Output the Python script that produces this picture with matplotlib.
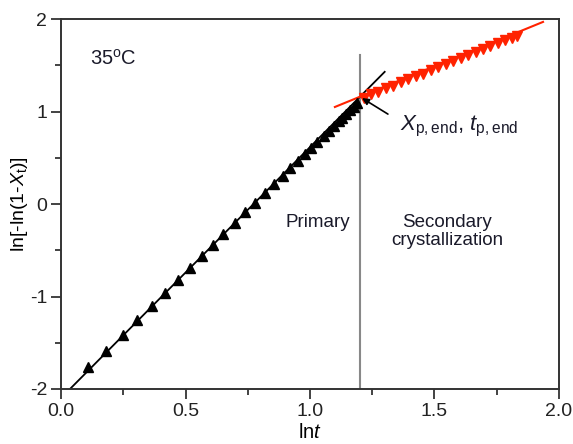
import matplotlib
matplotlib.use("Agg")
import matplotlib.pyplot as plt
from matplotlib.ticker import MultipleLocator

plt.rcParams["font.family"] = ["Liberation Sans", "DejaVu Sans"]
plt.rcParams["mathtext.fontset"] = "custom"
plt.rcParams["mathtext.rm"] = "Liberation Sans"
plt.rcParams["mathtext.it"] = "Liberation Sans:italic"
plt.rcParams["axes.unicode_minus"] = False

# primary crystallization data (ln t, ln[-ln(1-X)])
prim_x = [0.108, 0.181, 0.249, 0.305, 0.365, 0.418, 0.470, 0.518, 0.566, 0.610,
          0.651, 0.699, 0.740, 0.780, 0.820, 0.855, 0.890, 0.920, 0.950, 0.980,
          1.005, 1.030, 1.055, 1.075, 1.095, 1.115, 1.130, 1.145, 1.160, 1.175, 1.190]
prim_y = [-1.762, -1.589, -1.416, -1.254, -1.103, -0.962, -0.822, -0.692, -0.562, -0.443,
          -0.324, -0.205, -0.090, 0.015, 0.120, 0.215, 0.305, 0.385, 0.465, 0.545,
          0.610, 0.675, 0.740, 0.790, 0.845, 0.895, 0.935, 0.975, 1.015, 1.050, 1.090]

# secondary crystallization data
sec_x = [1.215, 1.245, 1.275, 1.305, 1.335, 1.365, 1.395, 1.425, 1.455, 1.485, 1.515,
         1.545, 1.575, 1.605, 1.635, 1.665, 1.695, 1.725, 1.755, 1.785, 1.810, 1.830]
sec_y = [1.150, 1.185, 1.215, 1.250, 1.282, 1.315, 1.348, 1.380, 1.412, 1.445, 1.478,
         1.510, 1.543, 1.575, 1.607, 1.640, 1.672, 1.705, 1.737, 1.770, 1.797, 1.818]

# Avrami fits (end points)
fit1_x = [0.036, 1.30]
fit1_y = [-2.0, 1.43]
fit2_x = [1.10, 1.936]
fit2_y = [1.05, 1.97]

t_end = 1.2

fig = plt.figure(figsize=(5.73, 4.44), dpi=100)
ax = fig.add_axes([0.1065, 0.1239, 0.869, 0.833])

ax.plot(fit1_x, fit1_y, color="black", lw=1.3, zorder=2)
ax.plot(prim_x, prim_y, ls="none", marker="^", ms=7.5, color="black", zorder=3)
ax.plot(fit2_x, fit2_y, color="#ff2200", lw=1.5, zorder=2)
ax.plot(sec_x, sec_y, ls="none", marker="v", ms=7.5, color="#ff2200", zorder=3)

ax.plot([t_end, t_end], [-2.0, 1.61], color="#888888", lw=1.5, zorder=1)

ax.annotate("", xy=(1.209, 1.146), xytext=(1.313, 0.973),
            arrowprops=dict(arrowstyle="-|>", color="black", lw=1.2,
                            mutation_scale=10, shrinkA=0, shrinkB=0))

ax.text(1.36, 0.84, r"$X_{\mathrm{p,end}}$, $t_{\mathrm{p,end}}$", fontsize=16,
        color="#1a1a2a", va="center", ha="left")
ax.text(0.116, 1.57, "35$^\\mathrm{o}$C", fontsize=14.5, color="#1a1a2a", va="center")
ax.text(1.03, -0.2, "Primary", fontsize=13.5, color="#1a1a2a", ha="center", va="center")
ax.text(1.55, -0.30, "Secondary\ncrystallization", fontsize=13.5, color="#1a1a2a",
        ha="center", va="center", linespacing=1.05)

ax.set_xlim(0, 2)
ax.set_ylim(-2, 2)
ax.xaxis.set_major_locator(MultipleLocator(0.5))
ax.xaxis.set_minor_locator(MultipleLocator(0.25))
ax.yaxis.set_major_locator(MultipleLocator(1))
ax.yaxis.set_minor_locator(MultipleLocator(0.5))
ax.xaxis.set_major_formatter(plt.FormatStrFormatter("%.1f"))
ax.tick_params(which="both", direction="out", top=False, right=False,
               labelsize=14, colors="#222222", width=1.2)
ax.tick_params(which="major", length=7, pad=3)
ax.tick_params(which="minor", length=4)
for s in ax.spines.values():
    s.set_linewidth(1.4)
    s.set_color("#333333")

ax.set_xlabel(r"ln$\mathit{t}$", fontsize=14.5, labelpad=2)
ax.set_ylabel(r"ln[-ln(1-$\mathit{X}_\mathrm{t}$)]", fontsize=14, labelpad=0)

fig.savefig("out.png", dpi=100)
